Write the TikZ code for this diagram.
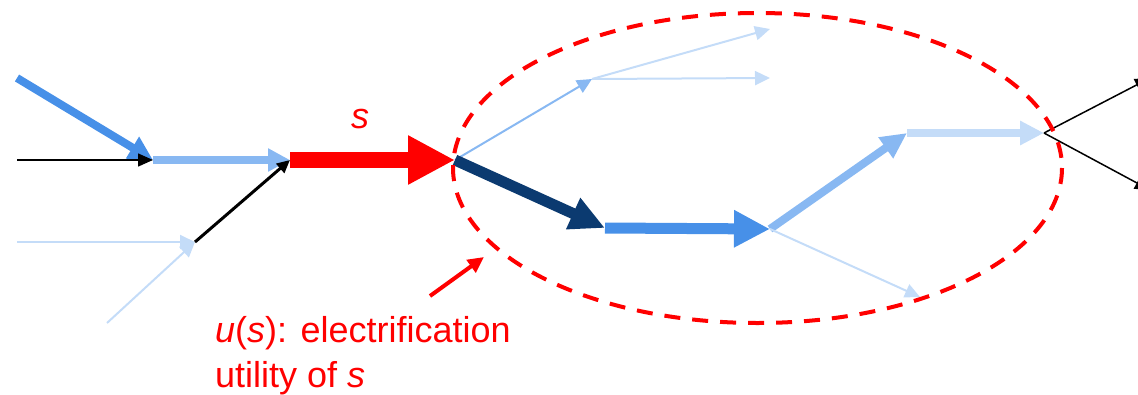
\documentclass[tikz,border=0pt]{standalone}
\usepackage{fontspec}
\setmainfont{Liberation Sans}
\usepackage{xcolor}
\usetikzlibrary{arrows.meta,positioning}

\definecolor{midblue}{HTML}{4790E8}
\definecolor{lightblue}{HTML}{88B8F2}
\definecolor{paleblue}{HTML}{C4DCF8}
\definecolor{navyblue}{HTML}{0B3A70}

\begin{document}
\begin{tikzpicture}
[x=1pt,y=-1pt,
      font=\fontsize{36}{43}\selectfont,
      flow/.style n args={3}{line width=#1,
        -{Triangle[length=#2,width=#3]}},
      thinflow/.style={flow={2pt}{15pt}{14pt}, paleblue},
      label/.style={text=red, inner sep=0pt}]
 \useasboundingbox (0,0) rectangle (1138,394);
 \clip (0,0) rectangle (1138,394);
 % junctions
 \coordinate (inA) at (17,78);
 \coordinate (inB) at (17,160);
 \coordinate (inC) at (17,242);
 \coordinate (inD) at (107,323);
 \coordinate (b) at (153,160);
 \coordinate (d) at (195,242);
 \coordinate (c) at (290,160);
 \coordinate (e) at (455,160);
 \coordinate (f) at (592,79);
 \coordinate (f1) at (770,29);
 \coordinate (f2) at (770,78);
 \coordinate (g) at (605,228);
 \coordinate (h) at (770,229);
 \coordinate (h1) at (920,297);
 \coordinate (i) at (907,133);
 \coordinate (j) at (1044,133);
 \coordinate (j1) at (1150,78);
 \coordinate (j2) at (1150,190);
 \coordinate (ptA) at (430,296);
 \coordinate (ptB) at (484,257);
 % left part
 \draw[flow={8pt}{24pt}{24pt}, midblue] (inA) -- (b);
 \draw[flow={1.5pt}{15pt}{13pt}, black] (inB) -- (b);
 \draw[flow={8pt}{22pt}{22pt}, lightblue] (b) -- (c);
 \draw[thinflow] (inC) -- (d);
 \draw[thinflow] (inD) -- (d);
 \draw[flow={3pt}{13pt}{12pt}, black] (d) -- (c);
 % the edge s
 \draw[flow={16pt}{47pt}{46pt}, red] (c) -- (e);
 \node[label] (sLbl) at (360,119) {\itshape s};
 % right part
 \draw[flow={2pt}{15pt}{14pt}, lightblue] (e) -- (f);
 \draw[thinflow] (f) -- (f1);
 \draw[thinflow] (f) -- (f2);
 \draw[flow={11pt}{35pt}{32pt}, navyblue] (e) -- (g);
 \draw[flow={11pt}{36pt}{35pt}, midblue] (g) -- (h);
 \draw[flow={8pt}{26pt}{24pt}, lightblue] (h) -- (i);
 \draw[flow={8pt}{24pt}{23pt}, paleblue] (i) -- (j);
 \draw[thinflow] (h) -- (h1);
 \draw[flow={1.5pt}{15pt}{13pt}, black] (j) -- (j1);
 \draw[flow={1.5pt}{15pt}{13pt}, black] (j) -- (j2);
 % utility region
 \draw[red, line width=4pt, dash pattern=on 16pt off 12pt]
   (757.5,168) ellipse [x radius=304.5, y radius=155];
 \draw[flow={4pt}{16pt}{15pt}, red] (ptA) -- (ptB);
 \node[label, anchor=base west] (uLbl) at (215,342)
   {\itshape u\upshape(\itshape s\upshape): electrification};
 \node[label, anchor=base west] (uLbl2) at (215,387)
   {utility of \itshape s};
\end{tikzpicture}
\end{document}
